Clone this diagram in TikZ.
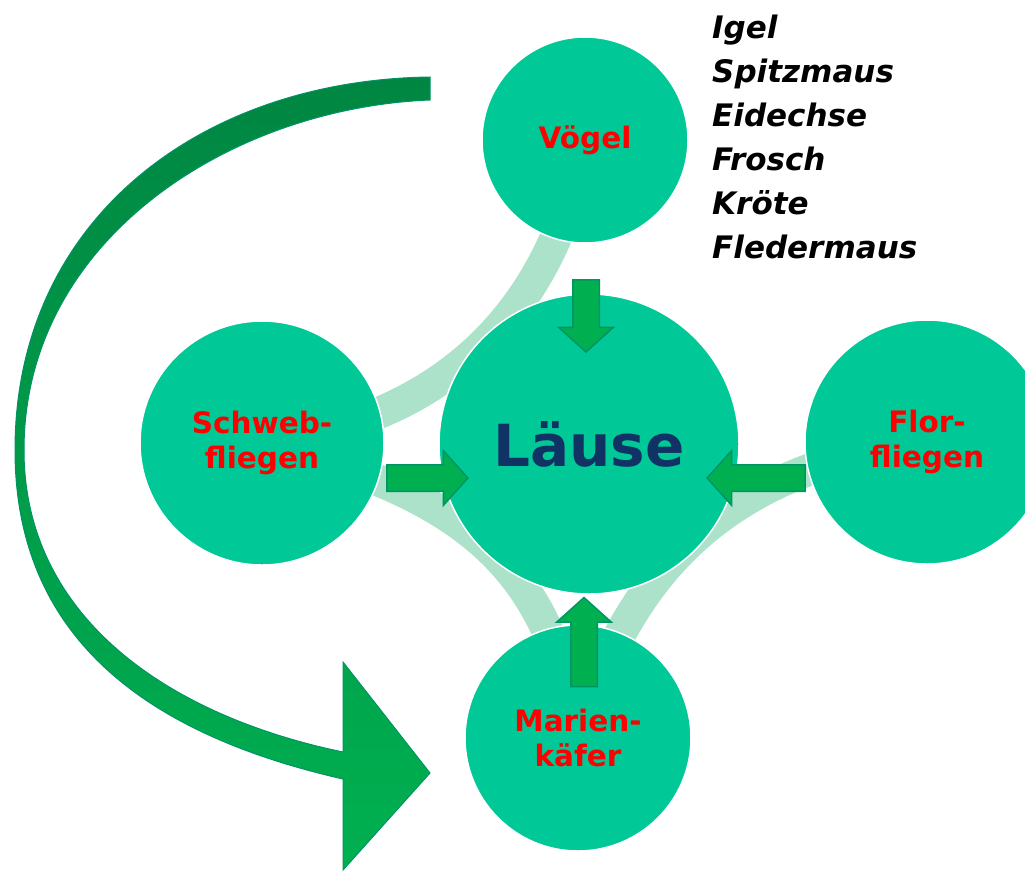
\documentclass[tikz,border=0pt]{standalone}
\usepackage{fontspec}
\setmainfont{DejaVu Sans}
\usetikzlibrary{shapes.arrows}

\definecolor{circ}{RGB}{0,200,150}
\definecolor{bandgreen}{RGB}{172,226,202}
\definecolor{arrowfill}{RGB}{0,176,80}
\definecolor{arrowline}{RGB}{0,148,100}
\definecolor{darkarc}{RGB}{0,134,66}
\definecolor{navy}{RGB}{16,50,100}

\begin{document}
\begin{tikzpicture}[
	x=1pt, y=-1pt,
	ring/.style = {circle, fill=circ, draw=white, line width=1.5pt, inner sep=0pt, align=center},
	insect/.style = {text=red, font=\bfseries\fontsize{29.5}{35}\selectfont},
	band/.style = {draw=bandgreen, line width=32pt},
	blockarrow/.style = {single arrow, fill=arrowfill, draw=arrowline, line width=1.5pt,
		inner xsep=0pt, inner ysep=12.5pt, single arrow head extend=14pt, single arrow tip angle=96},
	predator/.style = {anchor=base west, inner sep=0pt, font=\bfseries\itshape\fontsize{31}{37}\selectfont}
	]
	\fill[white] (0,0) rectangle (1025,873);
	\useasboundingbox (0,0) rectangle (1025,873);
%
	\coordinate (cV) at (585,140);
	\coordinate (cS) at (262,443);
	\coordinate (cM) at (578,738);
	\coordinate (cF) at (927,442);
%
	\draw[band] (cV) .. controls (555,305) and (450,420) .. (cS);
	\draw[band] (cS) .. controls (465,495) and (550,565) .. (cM);
	\draw[band] (cM) .. controls (620,600) and (700,470) .. (cF);
%
	\shade[top color=darkarc, bottom color=arrowfill, draw=arrowline, line width=1pt]
		(430,77) .. controls (200,80) and (15,220) .. (15,450)
		.. controls (15,640) and (150,735) .. (343,779)
		-- (343,870) -- (430,773) -- (343,662) -- (343,752)
		.. controls (165,715) and (24,615) .. (24,450)
		.. controls (24,240) and (230,108) .. (430,100) -- cycle;
%
	\node (voegel) [ring, minimum size=206pt, insect] at (cV) {Vögel};
	\node (laeuse) [ring, minimum size=300pt, text=navy, font=\bfseries\fontsize{58}{60}\selectfont] at (589,444) {Läuse};
	\node (schweb) [ring, minimum size=244pt, insect] at (cS) {Schweb-\\fliegen};
	\node (flor) [ring, minimum size=244pt, insect] at (cF) {Flor-\\fliegen};
	\node (marien) [ring, minimum size=226pt, insect] at (cM) {Marien-\\käfer};
%
	\node (down) [blockarrow, minimum height=72pt, rotate=-90] at (586,310) {};
	\node (right) [blockarrow, minimum height=81pt] at (421.5,478) {};
	\node (left) [blockarrow, minimum height=98pt, rotate=180] at (762,478) {};
	\node (up) [blockarrow, minimum height=89pt, rotate=90] at (584,648) {};
%
	\foreach \animal [count=\i] in {Igel,Spitzmaus,Eidechse,Frosch,Kröte,Fledermaus}
		\node (pred\i) [predator] at (712, {38+44*(\i-1)}) {\animal};
\end{tikzpicture}
\end{document}
